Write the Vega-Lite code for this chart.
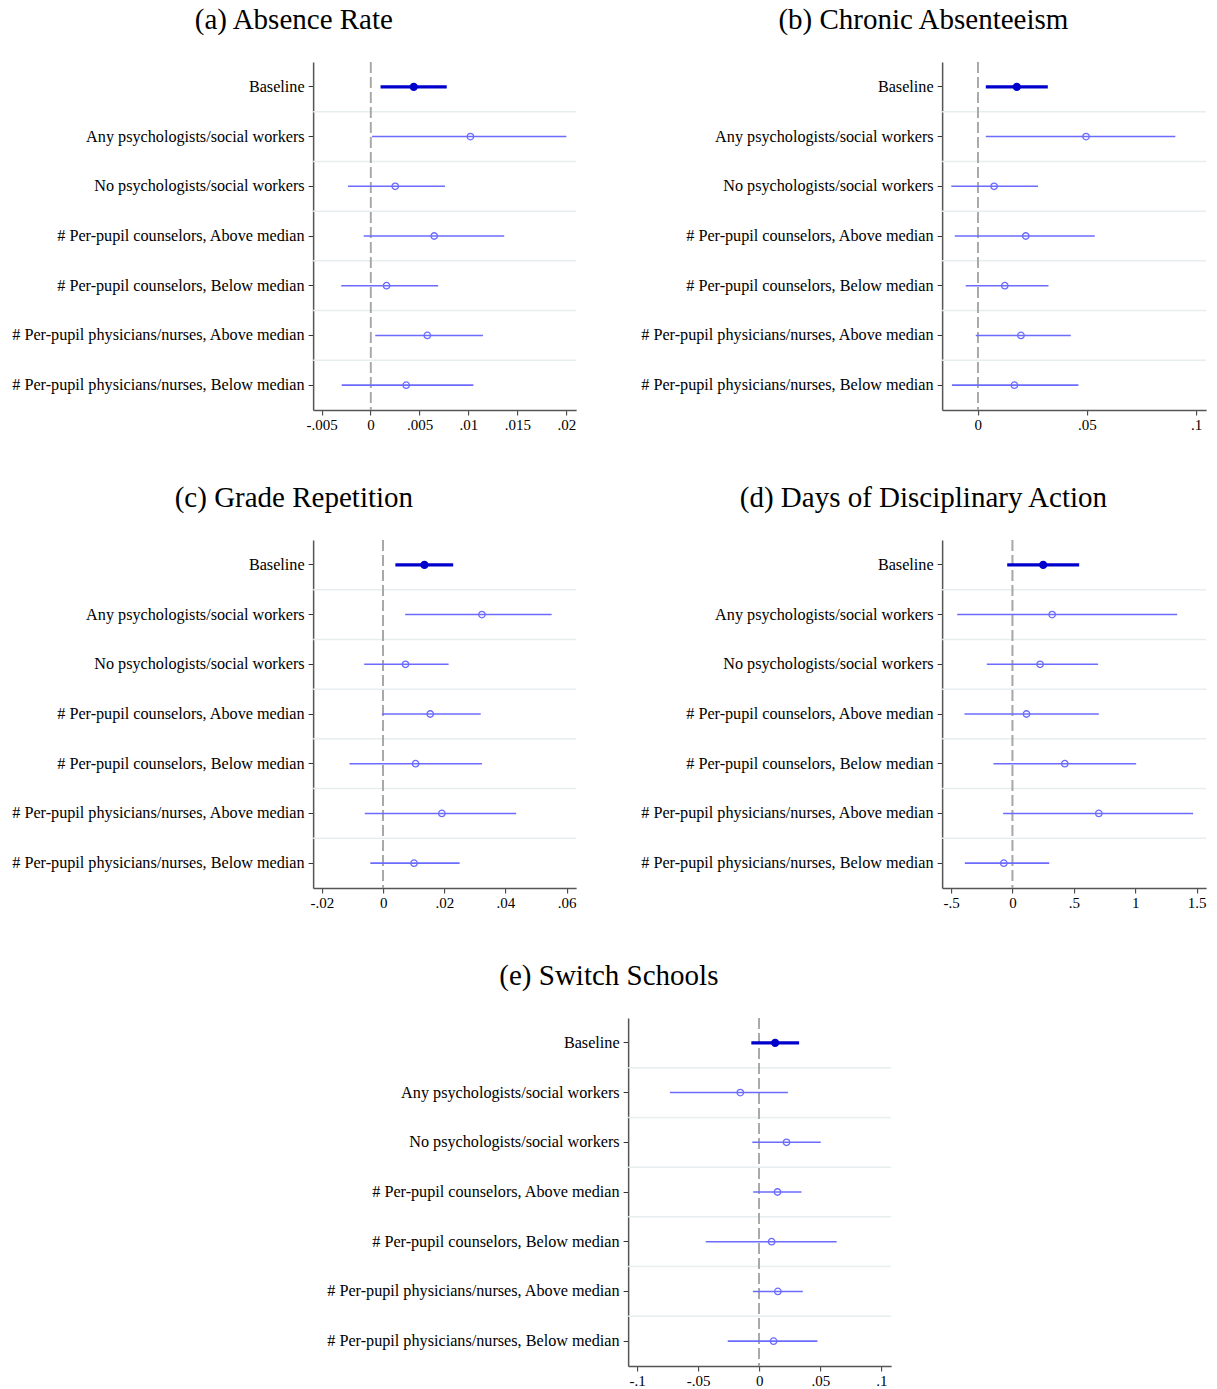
{
  "$schema": "https://vega.github.io/schema/vega-lite/v6.json",
  "background": "white",
  "padding": {"left": 10, "top": 6, "right": 5, "bottom": 0},
  "center": true,
  "spacing": 52,
  "config": {
    "view": {"stroke": null},
    "font": "Liberation Serif",
    "title": {"font": "Liberation Serif", "fontSize": 29, "fontWeight": "normal", "color": "black", "anchor": "middle", "frame": "bounds", "offset": 26},
    "axis": {"grid": false, "labelFont": "Liberation Serif", "labelColor": "black", "labelLimit": 0, "tickColor": "#333", "domainColor": "#555", "domainWidth": 1.5, "tickSize": 5, "title": null},
    "axisX": {"labelFontSize": 15, "labelPadding": 2},
    "axisY": {"labelFontSize": 16.2, "labelPadding": 4}
  },
  "datasets": {
    "a": [
      {"row": "Baseline", "est": 0.00441, "lo": 0.00102, "hi": 0.00778},
      {"row": "Any psychologists/social workers", "est": 0.0102, "lo": 0.00014, "hi": 0.0200},
      {"row": "No psychologists/social workers", "est": 0.00252, "lo": -0.0023, "hi": 0.0076},
      {"row": "# Per-pupil counselors, Above median", "est": 0.0065, "lo": -0.0007, "hi": 0.01365},
      {"row": "# Per-pupil counselors, Below median", "est": 0.00163, "lo": -0.0030, "hi": 0.0069},
      {"row": "# Per-pupil physicians/nurses, Above median", "est": 0.0058, "lo": 0.00048, "hi": 0.01148},
      {"row": "# Per-pupil physicians/nurses, Below median", "est": 0.00364, "lo": -0.00295, "hi": 0.0105}
    ],
    "b": [
      {"row": "Baseline", "est": 0.0179, "lo": 0.0037, "hi": 0.0321},
      {"row": "Any psychologists/social workers", "est": 0.0496, "lo": 0.0037, "hi": 0.0905},
      {"row": "No psychologists/social workers", "est": 0.0075, "lo": -0.0121, "hi": 0.0276},
      {"row": "# Per-pupil counselors, Above median", "est": 0.0220, "lo": -0.0105, "hi": 0.0536},
      {"row": "# Per-pupil counselors, Below median", "est": 0.0124, "lo": -0.0055, "hi": 0.0324},
      {"row": "# Per-pupil physicians/nurses, Above median", "est": 0.0198, "lo": -0.0009, "hi": 0.0426},
      {"row": "# Per-pupil physicians/nurses, Below median", "est": 0.0168, "lo": -0.0118, "hi": 0.0461}
    ],
    "c": [
      {"row": "Baseline", "est": 0.0135, "lo": 0.0040, "hi": 0.0229},
      {"row": "Any psychologists/social workers", "est": 0.0323, "lo": 0.0072, "hi": 0.0551},
      {"row": "No psychologists/social workers", "est": 0.0073, "lo": -0.0062, "hi": 0.0214},
      {"row": "# Per-pupil counselors, Above median", "est": 0.0154, "lo": -0.0004, "hi": 0.0319},
      {"row": "# Per-pupil counselors, Below median", "est": 0.0106, "lo": -0.0110, "hi": 0.0323},
      {"row": "# Per-pupil physicians/nurses, Above median", "est": 0.0192, "lo": -0.0060, "hi": 0.0435},
      {"row": "# Per-pupil physicians/nurses, Below median", "est": 0.0101, "lo": -0.0042, "hi": 0.0250}
    ],
    "d": [
      {"row": "Baseline", "est": 0.250, "lo": -0.043, "hi": 0.543},
      {"row": "Any psychologists/social workers", "est": 0.323, "lo": -0.450, "hi": 1.341},
      {"row": "No psychologists/social workers", "est": 0.225, "lo": -0.209, "hi": 0.697},
      {"row": "# Per-pupil counselors, Above median", "est": 0.114, "lo": -0.391, "hi": 0.703},
      {"row": "# Per-pupil counselors, Below median", "est": 0.426, "lo": -0.155, "hi": 1.007},
      {"row": "# Per-pupil physicians/nurses, Above median", "est": 0.703, "lo": -0.076, "hi": 1.471},
      {"row": "# Per-pupil physicians/nurses, Below median", "est": -0.071, "lo": -0.388, "hi": 0.299}
    ],
    "e": [
      {"row": "Baseline", "est": 0.0130, "lo": -0.0065, "hi": 0.0326},
      {"row": "Any psychologists/social workers", "est": -0.0155, "lo": -0.0731, "hi": 0.0234},
      {"row": "No psychologists/social workers", "est": 0.0223, "lo": -0.0057, "hi": 0.0503},
      {"row": "# Per-pupil counselors, Above median", "est": 0.0149, "lo": -0.0049, "hi": 0.0345},
      {"row": "# Per-pupil counselors, Below median", "est": 0.0101, "lo": -0.0438, "hi": 0.0633},
      {"row": "# Per-pupil physicians/nurses, Above median", "est": 0.0152, "lo": -0.0052, "hi": 0.0356},
      {"row": "# Per-pupil physicians/nurses, Below median", "est": 0.0117, "lo": -0.0258, "hi": 0.0476}
    ]
  },
  "vconcat": [
    {
      "bounds": "flush",
      "spacing": 366,
      "hconcat": [
        {
          "title": "(a) Absence Rate",
          "width": 263, "height": 348,
          "data": {"name": "a"},
          "encoding": {
            "y": {"field": "row", "type": "nominal", "sort": ["Baseline", "Any psychologists/social workers", "No psychologists/social workers", "# Per-pupil counselors, Above median", "# Per-pupil counselors, Below median", "# Per-pupil physicians/nurses, Above median", "# Per-pupil physicians/nurses, Below median"], "scale": {"paddingInner": 0, "paddingOuter": 0}}
          },
          "layer": [
            {"transform": [{"filter": "datum.row != 'Baseline'"}], "mark": {"type": "rule", "color": "#e6eef0", "strokeWidth": 1.5}, "encoding": {"y": {"field": "row", "type": "nominal", "bandPosition": 0}}},
            {"mark": {"type": "rule", "color": "#a8a8a8", "strokeWidth": 1.2, "strokeDash": [11, 4]}, "encoding": {"y": null, "x": {"datum": 0, "type": "quantitative", "scale": {"domain": [-0.00587, 0.0210], "nice": false, "zero": false}, "axis": {"values": [-0.005, 0, 0.005, 0.01, 0.015, 0.02], "labelExpr": "datum.value == 0 ? '0' : (datum.value < 0 ? '-' : '') + (abs(datum.value) < 1 ? substring(format(abs(datum.value), ''), 1) : format(abs(datum.value), ''))"}}}},
            {"transform": [{"filter": "datum.row != 'Baseline'"}], "mark": {"type": "rule", "color": "#6b6bff", "strokeWidth": 1.6}, "encoding": {"x": {"field": "lo", "type": "quantitative"}, "x2": {"field": "hi"}}},
            {"transform": [{"filter": "datum.row != 'Baseline'"}], "mark": {"type": "point", "shape": "circle", "filled": false, "color": "#6b6bff", "size": 42, "strokeWidth": 1.3, "opacity": 1}, "encoding": {"x": {"field": "est", "type": "quantitative"}}},
            {"transform": [{"filter": "datum.row == 'Baseline'"}], "mark": {"type": "rule", "color": "#0000cc", "strokeWidth": 3.4}, "encoding": {"x": {"field": "lo", "type": "quantitative"}, "x2": {"field": "hi"}}},
            {"transform": [{"filter": "datum.row == 'Baseline'"}], "mark": {"type": "point", "shape": "circle", "filled": true, "color": "#0000cc", "size": 70, "opacity": 1}, "encoding": {"x": {"field": "est", "type": "quantitative"}}}
          ]
        },
        {
          "title": "(b) Chronic Absenteeism",
          "width": 264, "height": 348,
          "data": {"name": "b"},
          "encoding": {
            "y": {"field": "row", "type": "nominal", "sort": ["Baseline", "Any psychologists/social workers", "No psychologists/social workers", "# Per-pupil counselors, Above median", "# Per-pupil counselors, Below median", "# Per-pupil physicians/nurses, Above median", "# Per-pupil physicians/nurses, Below median"], "scale": {"paddingInner": 0, "paddingOuter": 0}}
          },
          "layer": [
            {"transform": [{"filter": "datum.row != 'Baseline'"}], "mark": {"type": "rule", "color": "#e6eef0", "strokeWidth": 1.5}, "encoding": {"y": {"field": "row", "type": "nominal", "bandPosition": 0}}},
            {"mark": {"type": "rule", "color": "#a8a8a8", "strokeWidth": 1.2, "strokeDash": [11, 4]}, "encoding": {"y": null, "x": {"datum": 0, "type": "quantitative", "scale": {"domain": [-0.0163, 0.1046], "nice": false, "zero": false}, "axis": {"values": [0, 0.05, 0.1], "labelExpr": "datum.value == 0 ? '0' : (datum.value < 0 ? '-' : '') + (abs(datum.value) < 1 ? substring(format(abs(datum.value), ''), 1) : format(abs(datum.value), ''))"}}}},
            {"transform": [{"filter": "datum.row != 'Baseline'"}], "mark": {"type": "rule", "color": "#6b6bff", "strokeWidth": 1.6}, "encoding": {"x": {"field": "lo", "type": "quantitative"}, "x2": {"field": "hi"}}},
            {"transform": [{"filter": "datum.row != 'Baseline'"}], "mark": {"type": "point", "shape": "circle", "filled": false, "color": "#6b6bff", "size": 42, "strokeWidth": 1.3, "opacity": 1}, "encoding": {"x": {"field": "est", "type": "quantitative"}}},
            {"transform": [{"filter": "datum.row == 'Baseline'"}], "mark": {"type": "rule", "color": "#0000cc", "strokeWidth": 3.4}, "encoding": {"x": {"field": "lo", "type": "quantitative"}, "x2": {"field": "hi"}}},
            {"transform": [{"filter": "datum.row == 'Baseline'"}], "mark": {"type": "point", "shape": "circle", "filled": true, "color": "#0000cc", "size": 70, "opacity": 1}, "encoding": {"x": {"field": "est", "type": "quantitative"}}}
          ]
        }
      ]
    },
    {
      "bounds": "flush",
      "spacing": 366,
      "hconcat": [
        {
          "title": "(c) Grade Repetition",
          "width": 263, "height": 348,
          "data": {"name": "c"},
          "encoding": {
            "y": {"field": "row", "type": "nominal", "sort": ["Baseline", "Any psychologists/social workers", "No psychologists/social workers", "# Per-pupil counselors, Above median", "# Per-pupil counselors, Below median", "# Per-pupil physicians/nurses, Above median", "# Per-pupil physicians/nurses, Below median"], "scale": {"paddingInner": 0, "paddingOuter": 0}}
          },
          "layer": [
            {"transform": [{"filter": "datum.row != 'Baseline'"}], "mark": {"type": "rule", "color": "#e6eef0", "strokeWidth": 1.5}, "encoding": {"y": {"field": "row", "type": "nominal", "bandPosition": 0}}},
            {"mark": {"type": "rule", "color": "#a8a8a8", "strokeWidth": 1.2, "strokeDash": [11, 4]}, "encoding": {"y": null, "x": {"datum": 0, "type": "quantitative", "scale": {"domain": [-0.0229, 0.0631], "nice": false, "zero": false}, "axis": {"values": [-0.02, 0, 0.02, 0.04, 0.06], "labelExpr": "datum.value == 0 ? '0' : (datum.value < 0 ? '-' : '') + (abs(datum.value) < 1 ? substring(format(abs(datum.value), ''), 1) : format(abs(datum.value), ''))"}}}},
            {"transform": [{"filter": "datum.row != 'Baseline'"}], "mark": {"type": "rule", "color": "#6b6bff", "strokeWidth": 1.6}, "encoding": {"x": {"field": "lo", "type": "quantitative"}, "x2": {"field": "hi"}}},
            {"transform": [{"filter": "datum.row != 'Baseline'"}], "mark": {"type": "point", "shape": "circle", "filled": false, "color": "#6b6bff", "size": 42, "strokeWidth": 1.3, "opacity": 1}, "encoding": {"x": {"field": "est", "type": "quantitative"}}},
            {"transform": [{"filter": "datum.row == 'Baseline'"}], "mark": {"type": "rule", "color": "#0000cc", "strokeWidth": 3.4}, "encoding": {"x": {"field": "lo", "type": "quantitative"}, "x2": {"field": "hi"}}},
            {"transform": [{"filter": "datum.row == 'Baseline'"}], "mark": {"type": "point", "shape": "circle", "filled": true, "color": "#0000cc", "size": 70, "opacity": 1}, "encoding": {"x": {"field": "est", "type": "quantitative"}}}
          ]
        },
        {
          "title": "(d) Days of Disciplinary Action",
          "width": 264, "height": 348,
          "data": {"name": "d"},
          "encoding": {
            "y": {"field": "row", "type": "nominal", "sort": ["Baseline", "Any psychologists/social workers", "No psychologists/social workers", "# Per-pupil counselors, Above median", "# Per-pupil counselors, Below median", "# Per-pupil physicians/nurses, Above median", "# Per-pupil physicians/nurses, Below median"], "scale": {"paddingInner": 0, "paddingOuter": 0}}
          },
          "layer": [
            {"transform": [{"filter": "datum.row != 'Baseline'"}], "mark": {"type": "rule", "color": "#e6eef0", "strokeWidth": 1.5}, "encoding": {"y": {"field": "row", "type": "nominal", "bandPosition": 0}}},
            {"mark": {"type": "rule", "color": "#a8a8a8", "strokeWidth": 1.2, "strokeDash": [11, 4]}, "encoding": {"y": null, "x": {"datum": 0, "type": "quantitative", "scale": {"domain": [-0.573, 1.577], "nice": false, "zero": false}, "axis": {"values": [-0.5, 0, 0.5, 1, 1.5], "labelExpr": "datum.value == 0 ? '0' : (datum.value < 0 ? '-' : '') + (abs(datum.value) < 1 ? substring(format(abs(datum.value), ''), 1) : format(abs(datum.value), ''))"}}}},
            {"transform": [{"filter": "datum.row != 'Baseline'"}], "mark": {"type": "rule", "color": "#6b6bff", "strokeWidth": 1.6}, "encoding": {"x": {"field": "lo", "type": "quantitative"}, "x2": {"field": "hi"}}},
            {"transform": [{"filter": "datum.row != 'Baseline'"}], "mark": {"type": "point", "shape": "circle", "filled": false, "color": "#6b6bff", "size": 42, "strokeWidth": 1.3, "opacity": 1}, "encoding": {"x": {"field": "est", "type": "quantitative"}}},
            {"transform": [{"filter": "datum.row == 'Baseline'"}], "mark": {"type": "rule", "color": "#0000cc", "strokeWidth": 3.4}, "encoding": {"x": {"field": "lo", "type": "quantitative"}, "x2": {"field": "hi"}}},
            {"transform": [{"filter": "datum.row == 'Baseline'"}], "mark": {"type": "point", "shape": "circle", "filled": true, "color": "#0000cc", "size": 70, "opacity": 1}, "encoding": {"x": {"field": "est", "type": "quantitative"}}}
          ]
        }
      ]
    },
    {
      "title": "(e) Switch Schools",
      "width": 263, "height": 348,
      "data": {"name": "e"},
      "encoding": {
        "y": {"field": "row", "type": "nominal", "sort": ["Baseline", "Any psychologists/social workers", "No psychologists/social workers", "# Per-pupil counselors, Above median", "# Per-pupil counselors, Below median", "# Per-pupil physicians/nurses, Above median", "# Per-pupil physicians/nurses, Below median"], "scale": {"paddingInner": 0, "paddingOuter": 0}}
      },
      "layer": [
        {"transform": [{"filter": "datum.row != 'Baseline'"}], "mark": {"type": "rule", "color": "#e6eef0", "strokeWidth": 1.5}, "encoding": {"y": {"field": "row", "type": "nominal", "bandPosition": 0}}},
        {"mark": {"type": "rule", "color": "#a8a8a8", "strokeWidth": 1.2, "strokeDash": [11, 4]}, "encoding": {"y": null, "x": {"datum": 0, "type": "quantitative", "scale": {"domain": [-0.1073, 0.1079], "nice": false, "zero": false}, "axis": {"values": [-0.1, -0.05, 0, 0.05, 0.1], "labelExpr": "datum.value == 0 ? '0' : (datum.value < 0 ? '-' : '') + (abs(datum.value) < 1 ? substring(format(abs(datum.value), ''), 1) : format(abs(datum.value), ''))"}}}},
        {"transform": [{"filter": "datum.row != 'Baseline'"}], "mark": {"type": "rule", "color": "#6b6bff", "strokeWidth": 1.6}, "encoding": {"x": {"field": "lo", "type": "quantitative"}, "x2": {"field": "hi"}}},
        {"transform": [{"filter": "datum.row != 'Baseline'"}], "mark": {"type": "point", "shape": "circle", "filled": false, "color": "#6b6bff", "size": 42, "strokeWidth": 1.3, "opacity": 1}, "encoding": {"x": {"field": "est", "type": "quantitative"}}},
        {"transform": [{"filter": "datum.row == 'Baseline'"}], "mark": {"type": "rule", "color": "#0000cc", "strokeWidth": 3.4}, "encoding": {"x": {"field": "lo", "type": "quantitative"}, "x2": {"field": "hi"}}},
        {"transform": [{"filter": "datum.row == 'Baseline'"}], "mark": {"type": "point", "shape": "circle", "filled": true, "color": "#0000cc", "size": 70, "opacity": 1}, "encoding": {"x": {"field": "est", "type": "quantitative"}}}
      ]
    }
  ]
}
